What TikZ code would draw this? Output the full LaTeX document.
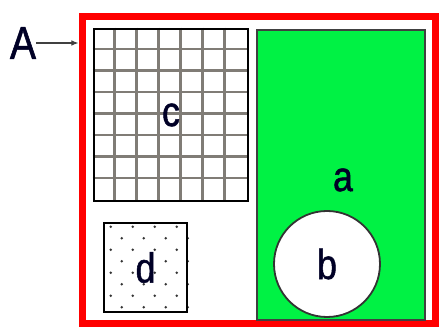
\documentclass[tikz,border=0pt]{standalone}
\usepackage{fontspec}
\setmainfont[FakeStretch=0.85,FakeBold=1.2]{Liberation Sans}
\usepackage{xcolor}
\usetikzlibrary{arrows.meta,backgrounds,calc}
\definecolor{setred}{RGB}{255,0,0}
\definecolor{setgreen}{RGB}{0,242,68}
\definecolor{gridgray}{RGB}{128,124,118}

\begin{document}
\begin{tikzpicture}[x=1pt, y=-1pt,
  setbox/.style={draw, rectangle, inner sep=0pt},
  letter/.style={font=\fontsize{42}{42}\selectfont, text=black!85!blue, inner sep=0pt},
  arrow/.style={-{Latex[length=2.5mm,width=2mm]}, line width=1.2pt, black!75},
]
  \useasboundingbox (0,0) rectangle (440,328);

  % Universal set
  \node[setbox, draw=setred, line width=7pt, minimum width=353pt,
        minimum height=307pt] (univ) at (258.5,170.5) {};
  \node[letter, font=\fontsize{46}{46}\selectfont] (lblA) at (23,43) {A};
  \draw[arrow] (lblA) -- (lblA -| univ.west);

  % Set c (grid)
  \node[setbox, line width=2.8pt, minimum width=154pt, minimum height=172pt,
        letter] (setc) at (171,115) {c};
  \begin{scope}[on background layer]
    \foreach \i in {1,...,6}
      \draw[gridgray, line width=2.4pt] ($(setc.north west)+(22*\i,0)$) -- ($(setc.south west)+(22*\i,0)$);
    \foreach \j in {1,...,7}
      \draw[gridgray, line width=2.4pt] ($(setc.north west)+(0,21.5*\j)$) -- ($(setc.north east)+(0,21.5*\j)$);
  \end{scope}

  % Set a with subset b
  \node[setbox, draw=black!75, fill=setgreen, line width=2pt,
        minimum width=168pt, minimum height=290pt] (seta) at (341,175) {};
  \node[letter] (lbla) at (343,180) {a};
  \node[draw=black!80, fill=white, circle, line width=1.8pt, minimum size=106pt,
        letter] (setb) at (327,264) {b};

  % Set d (dots)
  \node[setbox, line width=2.5pt, minimum width=83pt, minimum height=89pt,
        letter] (setd) at (145.5,267.5) {d};
  \begin{scope}[on background layer]
    \foreach \j in {0,...,7} {
      \pgfmathsetmacro{\shift}{mod(\j,2)*11}
      \foreach \i in {0,...,3}
        \fill[black!80] ($(setd.north west)+(8+\shift+22*\i,5+11.5*\j)$) circle (1.4pt);
    }
  \end{scope}
\end{tikzpicture}
\end{document}
